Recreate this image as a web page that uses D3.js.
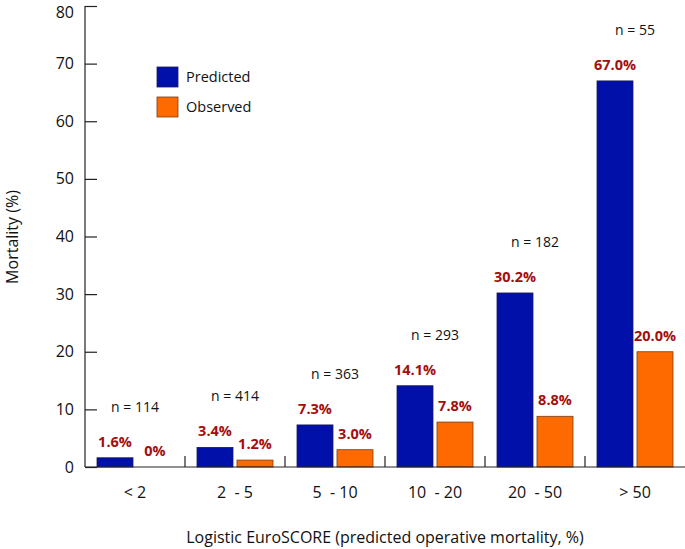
<!DOCTYPE html>
<html><head><meta charset="utf-8">
<script src="https://cdn.jsdelivr.net/npm/d3@7"></script>
<style>body{margin:0;background:#fff}svg{display:block}</style>
</head><body>
<svg id="chart" width="685" height="549"></svg>
<script>
const categories = ["< 2", "2  - 5", "5  - 10", "10  - 20", "20  - 50", "> 50"];
const predicted = [1.6, 3.4, 7.3, 14.1, 30.2, 67.0];
const observed = [0, 1.2, 3.0, 7.8, 8.8, 20.0];
const predictedLabels = ["1.6%", "3.4%", "7.3%", "14.1%", "30.2%", "67.0%"];
const observedLabels = ["0%", "1.2%", "3.0%", "7.8%", "8.8%", "20.0%"];
const nLabels = ["n = 114", "n = 414", "n = 363", "n = 293", "n = 182", "n = 55"];
const yTicks = [0, 10, 20, 30, 40, 50, 60, 70, 80];
const seriesNames = ["Predicted", "Observed"];
const colors = ["#0010a8", "#ff6a00"];

const font = "'Open Sans', sans-serif";
const svg = d3.select("#chart");
const mLeft = 85, mRight = 685, mTop = 6, mBottom = 467;

const x = d3.scaleBand().domain(categories).range([mLeft, mRight]);
const xs = d3.scaleBand().domain(seriesNames).range([0, x.bandwidth()]).paddingInner(0.1).paddingOuter(0.3);
const y = d3.scaleLinear().domain([0, 80]).range([mBottom, mTop]);

// bars
const series = [predicted, observed];
series.forEach((vals, si) => {
  svg.append("g").selectAll("rect").data(vals).join("rect")
    .attr("x", (d, i) => x(categories[i]) + xs(seriesNames[si]))
    .attr("y", d => y(d))
    .attr("width", xs.bandwidth())
    .attr("height", d => mBottom - y(d))
    .attr("fill", colors[si])
    .attr("stroke", si === 0 ? "#1a1a5a" : "#7a3a10")
    .attr("stroke-width", 0.8);
});

// y axis
const yAxis = d3.axisRight(y).tickValues(yTicks).tickSize(12).tickFormat("");
const gy = svg.append("g").attr("transform", `translate(${mLeft},0)`).call(yAxis);
gy.select(".domain").attr("stroke", "#222").attr("stroke-width", 1.2).attr("d", `M0,${mTop}V${mBottom}`);
gy.selectAll(".tick line").attr("stroke", "#222").attr("stroke-width", 1.2);
svg.append("g").selectAll("text").data(yTicks).join("text")
  .attr("x", 74).attr("y", d => Math.max(y(d), 12)).attr("dy", "0.35em")
  .attr("text-anchor", "end").attr("font-family", font).attr("font-size", 16).attr("fill", "#111")
  .text(d => d);

// x axis
const gx = svg.append("g").attr("transform", `translate(0,${mBottom})`);
gx.append("line").attr("x1", mLeft).attr("x2", mRight).attr("stroke", "#222").attr("stroke-width", 1.2);
gx.selectAll(".tk").data(categories.slice(1)).join("line").attr("class", "tk")
  .attr("x1", d => x(d)).attr("x2", d => x(d)).attr("y1", 0).attr("y2", -11)
  .attr("stroke", "#222").attr("stroke-width", 1.2);
gx.selectAll("text").data(categories).join("text")
  .attr("x", d => x(d) + x.bandwidth() / 2).attr("y", 31)
  .attr("text-anchor", "middle").attr("font-family", font).attr("font-size", 16).attr("fill", "#111")
  .style("white-space", "pre")
  .text(d => d);

// value labels
const red = "#a50d0d";
svg.append("g").selectAll("text").data(predicted).join("text")
  .attr("x", (d, i) => x(categories[i]) + xs("Predicted") + xs.bandwidth() / 2)
  .attr("y", d => y(d) - 11)
  .attr("text-anchor", "middle").attr("font-family", font).attr("font-weight", "bold")
  .attr("font-size", 14.5).attr("fill", red)
  .text((d, i) => predictedLabels[i]);
svg.append("g").selectAll("text").data(observed).join("text")
  .attr("x", (d, i) => x(categories[i]) + xs("Observed") + xs.bandwidth() / 2)
  .attr("y", d => y(d) - 11)
  .attr("text-anchor", "middle").attr("font-family", font).attr("font-weight", "bold")
  .attr("font-size", 14.5).attr("fill", red)
  .text((d, i) => observedLabels[i]);

// n labels
svg.append("g").selectAll("text").data(predicted).join("text")
  .attr("x", (d, i) => x(categories[i]) + x.bandwidth() / 2)
  .attr("y", d => y(d) - 46)
  .attr("text-anchor", "middle").attr("font-family", font).attr("font-size", 14).attr("fill", "#111")
  .text((d, i) => nLabels[i]);

// legend
const lg = svg.append("g").attr("transform", "translate(157,67)");
seriesNames.forEach((s, i) => {
  lg.append("rect").attr("x", 0).attr("y", i * 30).attr("width", 21).attr("height", 20)
    .attr("fill", colors[i]).attr("stroke", i === 0 ? "#1a1a5a" : "#7a3a10").attr("stroke-width", 0.8);
  lg.append("text").attr("x", 29).attr("y", i * 30 + 15)
    .attr("font-family", font).attr("font-size", 14.5).attr("fill", "#111").text(s);
});

// axis titles
svg.append("text").attr("transform", "translate(18,237) rotate(-90)")
  .attr("text-anchor", "middle").attr("font-family", font).attr("font-size", 16).attr("fill", "#111")
  .text("Mortality (%)");
svg.append("text").attr("x", 385).attr("y", 543)
  .attr("text-anchor", "middle").attr("font-family", font).attr("font-size", 16).attr("fill", "#111")
  .text("Logistic EuroSCORE (predicted operative mortality, %)");
</script>
</body></html>
